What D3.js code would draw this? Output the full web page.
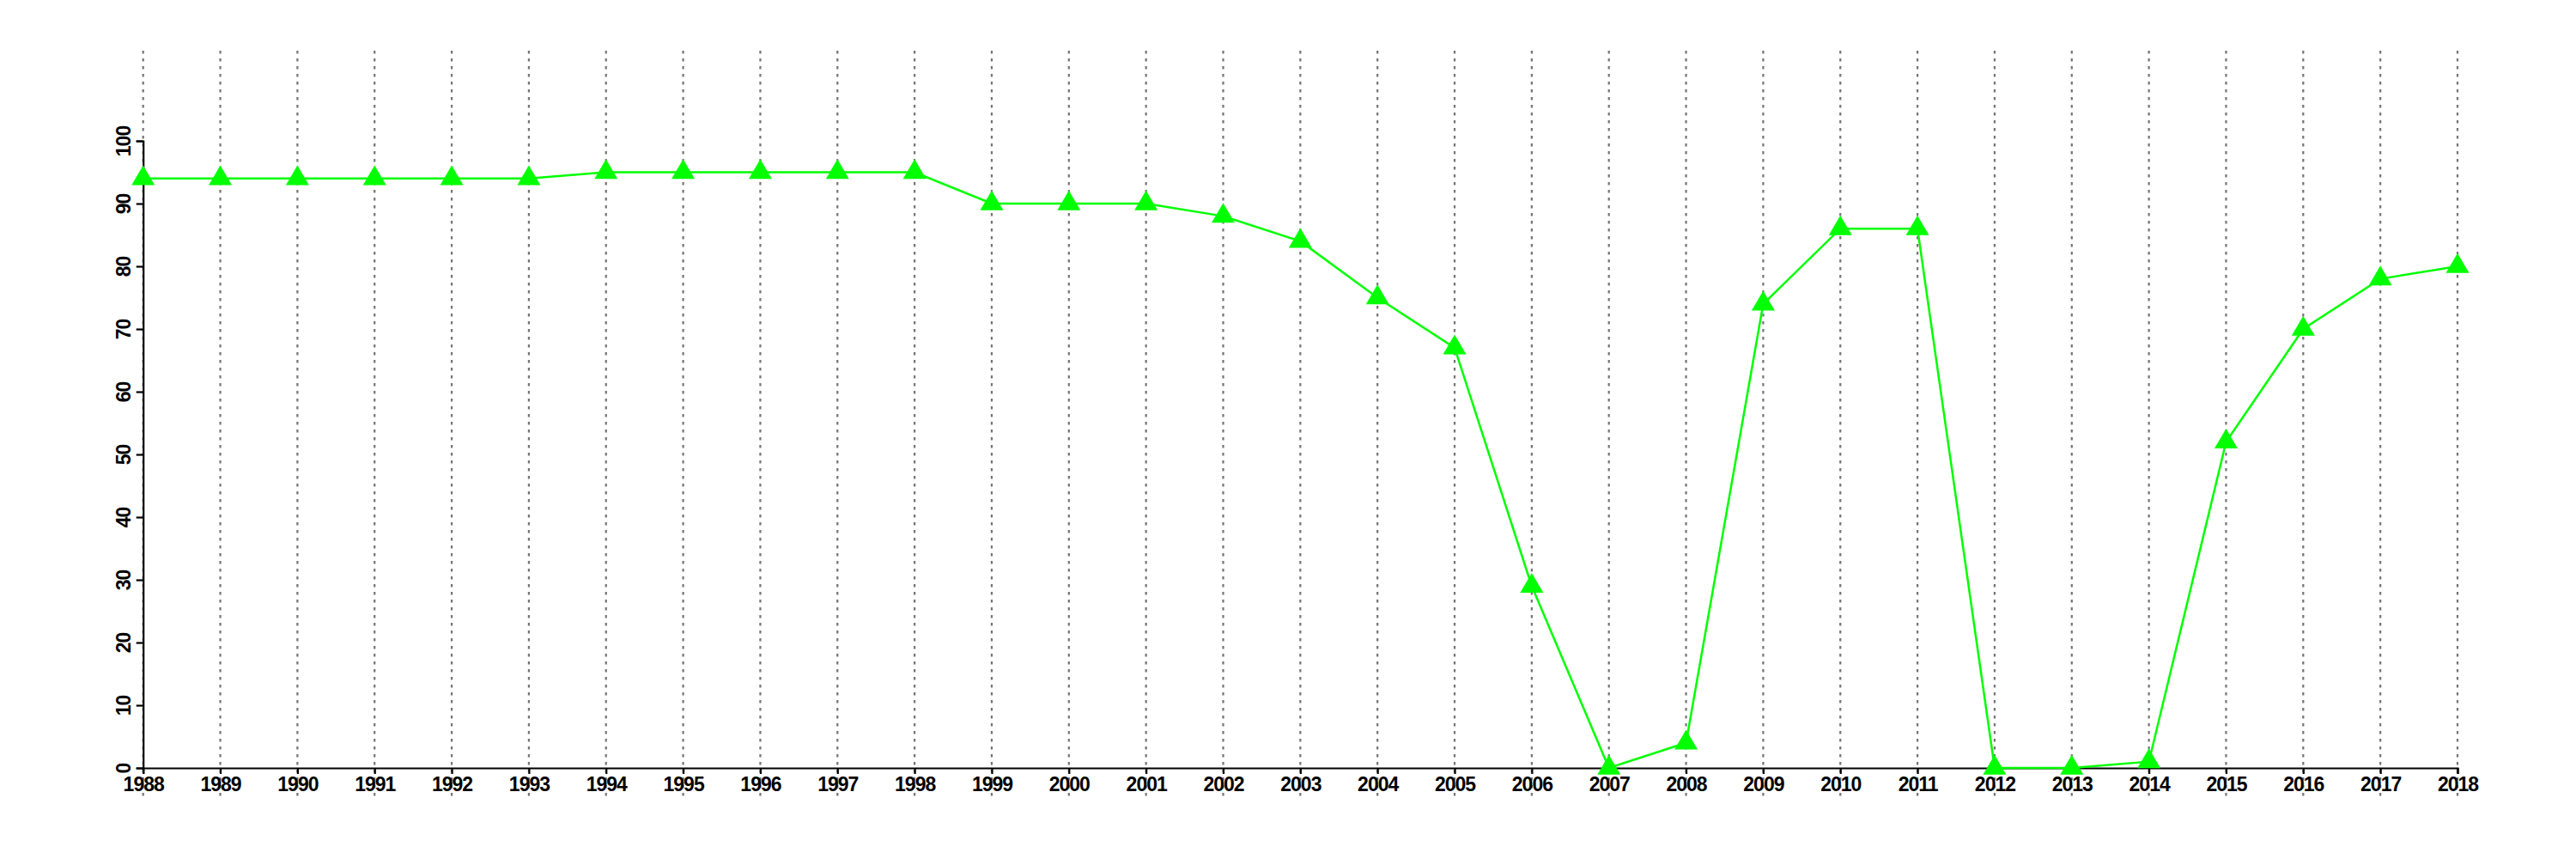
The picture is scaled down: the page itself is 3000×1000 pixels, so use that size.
<!DOCTYPE html>
<html>
<head>
<meta charset="utf-8">
<script src="https://cdn.jsdelivr.net/npm/d3@7"></script>
<style>
  html, body { margin: 0; padding: 0; background: #fff; }
  svg { display: block; }
  text { font-family: "Liberation Sans", Arial, Helvetica, sans-serif; font-weight: bold; }
</style>
</head>
<body>
<script>
const years = [1988, 1989, 1990, 1991, 1992, 1993, 1994, 1995, 1996, 1997, 1998, 1999, 2000, 2001, 2002, 2003, 2004, 2005, 2006, 2007, 2008, 2009, 2010, 2011, 2012, 2013, 2014, 2015, 2016, 2017, 2018];
const values = [94, 94, 94, 94, 94, 94, 95, 95, 95, 95, 95, 90, 90, 90, 88, 84, 75, 67, 29, 0, 4, 74, 86, 86, 0, 0, 1, 52, 70, 78, 80];
const yTicks = [0, 10, 20, 30, 40, 50, 60, 70, 80, 90, 100];

const W = 3000, H = 1000;
const svg = d3.select("body").append("svg").attr("width", W).attr("height", H);

const x = d3.scaleLinear().domain([1988, 2018]).range([166.7, 2862]);
const y = d3.scaleLinear().domain([0, 100]).range([894, 164]);

// vertical dashed grid lines
svg.append("g").selectAll("line").data(years).join("line")
  .attr("x1", d => x(d)).attr("x2", d => x(d))
  .attr("y1", 59).attr("y2", 927)
  .attr("stroke", "#747474").attr("stroke-width", 2.2)
  .attr("stroke-dasharray", "3.5,5.5");

// x axis
const xAxis = svg.append("g").attr("transform", "translate(0,894)")
  .call(d3.axisBottom(x).tickValues(years).tickFormat(d3.format("d")).tickSize(7).tickPadding(4));
xAxis.select(".domain").attr("stroke", "#000").attr("stroke-width", 2.2);
xAxis.selectAll(".tick line").attr("stroke", "#000").attr("stroke-width", 2.2);
xAxis.selectAll(".tick text").attr("font-size", 23).attr("fill", "#000")
  .attr("font-family", "Liberation Sans, Arial, sans-serif").attr("font-weight", "bold")
  .attr("letter-spacing", "-1px");

// y axis
const yAxis = svg.append("g").attr("transform", "translate(166.7,0)")
  .call(d3.axisLeft(y).tickValues(yTicks).tickSize(8).tickFormat(d3.format("d")));
yAxis.select(".domain").attr("stroke", "#000").attr("stroke-width", 2.2);
yAxis.selectAll(".tick line").attr("stroke", "#000").attr("stroke-width", 2.2);
yAxis.selectAll(".tick text")
  .attr("x", null).attr("dy", null)
  .attr("transform", "translate(-15,0) rotate(-90)")
  .attr("text-anchor", "middle")
  .attr("font-size", 23).attr("fill", "#000")
  .attr("font-family", "Liberation Sans, Arial, sans-serif").attr("font-weight", "bold")
  .attr("letter-spacing", "-1px");

// line
const line = d3.line().x((d, i) => x(years[i])).y(d => y(d));
svg.append("path").datum(values)
  .attr("d", line)
  .attr("fill", "none").attr("stroke", "#00ff00").attr("stroke-width", 2.5);

// triangle markers (centroid at data point)
const tw = 27, th = 23;
const tri = `M0,${-th * 2 / 3}L${tw / 2},${th / 3}L${-tw / 2},${th / 3}Z`;
svg.append("g").selectAll("path").data(values).join("path")
  .attr("d", tri)
  .attr("transform", (d, i) => `translate(${x(years[i])},${y(d)})`)
  .attr("fill", "#00ff00");
</script>
</body>
</html>
